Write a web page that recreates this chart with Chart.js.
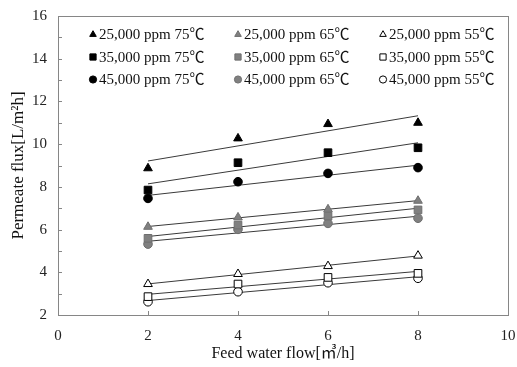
<!DOCTYPE html>
<html>
<head>
<meta charset="utf-8">
<script src="https://cdn.jsdelivr.net/npm/chart.js@4"></script>
<style>
  html, body { margin: 0; padding: 0; background: #fff; }
  #wrap { width: 517px; height: 367px; }
</style>
</head>
<body>
<div id="wrap"><canvas id="c" width="517" height="367"></canvas></div>
<script>
// Feed water flow (m3/h)
const flow = [2, 4, 6, 8];

// Permeate flux (L/m2h) by feed concentration and temperature
const f25k75 = [8.87, 10.27, 10.94, 11.00];
const f35k75 = [7.85, 9.13, 9.60, 9.83];
const f45k75 = [7.46, 8.24, 8.63, 8.90];
const f25k65 = [6.13, 6.57, 6.95, 7.35];
const f35k65 = [5.59, 6.21, 6.63, 6.92];
const f45k65 = [5.32, 6.01, 6.29, 6.53];
const f25k55 = [3.45, 3.92, 4.29, 4.78];
const f35k55 = [2.86, 3.45, 3.76, 3.95];
const f45k55 = [2.62, 3.09, 3.51, 3.72];

const seriesLabels = [
  '25,000 ppm 75℃', '25,000 ppm 65℃', '25,000 ppm 55℃',
  '35,000 ppm 75℃', '35,000 ppm 65℃', '35,000 ppm 55℃',
  '45,000 ppm 75℃', '45,000 ppm 65℃', '45,000 ppm 55℃'
];
const seriesValues = [f25k75, f25k65, f25k55, f35k75, f35k65, f35k55, f45k75, f45k65, f45k55];

const xTicks = [0, 2, 4, 6, 8, 10];
const yTicks = [2, 4, 6, 8, 10, 12, 14, 16];

const FONT = '"Liberation Serif", "Times New Roman", "Noto Sans CJK KR", serif';

// marker styling per temperature (75 / 65 / 55) and shape per concentration
const shapes = ['triangle', 'triangle', 'triangle', 'rect', 'rect', 'rect', 'circle', 'circle', 'circle'];
const fills = ['#000', '#808080', '#fff', '#000', '#808080', '#fff', '#000', '#808080', '#fff'];
const strokes = ['#000', '#6e6e6e', '#000', '#000', '#6e6e6e', '#000', '#000', '#6e6e6e', '#000'];
const radiusFor = { triangle: 5, rect: 5.4, circle: 4.3 };

// least-squares line over the measured points, spanning the measured range
function fitLine(xs, ys) {
  const n = xs.length;
  const mx = xs.reduce((a, b) => a + b, 0) / n;
  const my = ys.reduce((a, b) => a + b, 0) / n;
  let sxy = 0, sxx = 0;
  for (let i = 0; i < n; i++) { sxy += (xs[i] - mx) * (ys[i] - my); sxx += (xs[i] - mx) ** 2; }
  const b = sxy / sxx, a = my - b * mx;
  const x0 = Math.min(...xs), x1 = Math.max(...xs);
  return [{ x: x0, y: a + b * x0 }, { x: x1, y: a + b * x1 }];
}

const datasets = [];
seriesValues.forEach((vals, i) => {
  datasets.push({
    type: 'scatter',
    label: seriesLabels[i],
    data: flow.map((x, j) => ({ x, y: vals[j] })),
    pointStyle: shapes[i],
    pointRadius: radiusFor[shapes[i]],
    pointHoverRadius: radiusFor[shapes[i]],
    backgroundColor: fills[i],
    borderColor: strokes[i],
    pointBorderWidth: 1,
    order: 0
  });
});
seriesValues.forEach((vals) => {
  datasets.push({
    type: 'line',
    label: '',
    data: fitLine(flow, vals),
    borderColor: '#3a3a3a',
    borderWidth: 1,
    pointRadius: 0,
    fill: false,
    order: 1
  });
});

// plot frame, inward tick marks and in-plot legend
const framePlugin = {
  id: 'frame',
  afterDraw(chart) {
    const { ctx, chartArea: ca, scales: { x, y } } = chart;
    ctx.save();
    ctx.strokeStyle = '#868686';
    ctx.lineWidth = 1;
    ctx.strokeRect(Math.round(ca.left) + 0.5, Math.round(ca.top) + 0.5,
      Math.round(ca.right - ca.left), Math.round(ca.bottom - ca.top));
    ctx.beginPath();
    for (let v = 2; v <= 8; v += 2) {
      const px = Math.round(x.getPixelForValue(v)) + 0.5;
      ctx.moveTo(px, ca.bottom);
      ctx.lineTo(px, ca.bottom - 4);
    }
    for (let v = 3; v <= 15; v++) {
      const py = Math.round(y.getPixelForValue(v)) + 0.5;
      ctx.moveTo(ca.left, py);
      ctx.lineTo(ca.left + 4, py);
    }
    ctx.stroke();

    // legend: three columns (75, 65, 55 ℃), three rows (25k, 35k, 45k ppm)
    const colX = [ca.left + 35, ca.left + 180, ca.left + 325];
    const rowY = [ca.top + 18.5, ca.top + 41, ca.top + 63.5];
    ctx.font = '15px ' + FONT;
    ctx.textBaseline = 'middle';
    ctx.textAlign = 'left';
    for (let i = 0; i < 9; i++) {
      const r = Math.floor(i / 3), c = i % 3;
      const mx = colX[c], my = rowY[r];
      ctx.fillStyle = fills[i];
      ctx.strokeStyle = strokes[i];
      ctx.lineWidth = 1;
      Chart.helpers.drawPoint(ctx, {
        pointStyle: shapes[i],
        radius: shapes[i] === 'rect' ? 4.4 : shapes[i] === 'triangle' ? 3.8 : 3.6,
        borderWidth: 1,
        rotation: 0
      }, mx, my);
      ctx.fillStyle = '#111';
      ctx.fillText(seriesLabels[i], mx + 6, my + 1);
    }
    ctx.restore();
  }
};

new Chart(document.getElementById('c'), {
  data: { datasets },
  options: {
    responsive: false,
    animation: false,
    events: [],
    layout: { autoPadding: false, padding: { left: 0, top: 16, right: 9, bottom: 0 } },
    plugins: { legend: { display: false }, tooltip: { enabled: false } },
    scales: {
      x: {
        type: 'linear',
        min: 0, max: 10,
        afterBuildTicks(s) { s.ticks = xTicks.map(v => ({ value: v })); },
        afterFit(s) { s.height = 52; s.paddingLeft = 0; s.paddingRight = 0; },
        grid: { display: false, drawTicks: false },
        border: { display: false },
        ticks: { color: '#222', padding: 12, font: { family: FONT, size: 15 } },
        title: {
          display: true,
          text: 'Feed water flow[㎥/h]',
          color: '#111',
          font: { family: FONT, size: 16 },
          padding: { top: 0, bottom: 4 }
        }
      },
      y: {
        type: 'linear',
        min: 2, max: 16,
        afterBuildTicks(s) { s.ticks = yTicks.map(v => ({ value: v })); },
        afterFit(s) { s.width = 58; s.paddingTop = 0; s.paddingBottom = 0; },
        grid: { display: false, drawTicks: false },
        border: { display: false },
        ticks: { color: '#222', padding: 11, font: { family: FONT, size: 15 } },
        title: {
          display: true,
          text: 'Permeate flux[L/m²h]',
          color: '#111',
          font: { family: FONT, size: 17 },
          padding: { top: 8, bottom: 0 }
        }
      }
    }
  },
  plugins: [framePlugin]
});
</script>
</body>
</html>
